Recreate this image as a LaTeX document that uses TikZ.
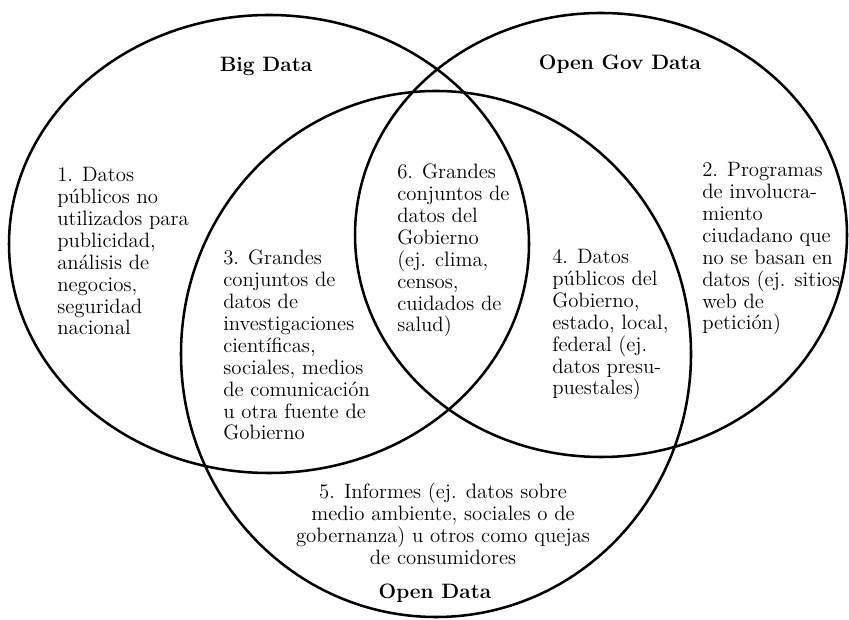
\documentclass[tikz,border=0pt]{standalone}
\usepackage{fontspec}
\usepackage{tikz}
\tikzset{every picture/.style={/utils/exec={\fontsize{14.8}{15.6}\selectfont}}}
\tikzset{
  areatext/.style={align=left, anchor=base west, inner sep=0pt},
  settitle/.style={anchor=base, inner sep=0pt, font=\bfseries},
  setline/.style={line width=1.8pt}
}
\begin{document}
\begin{tikzpicture}
        \useasboundingbox (0cm, 0cm) rectangle (21.225cm, 15.475cm);
        \draw[setline] (6.725cm, 9.375cm) ellipse (6.5cm and 5.725cm);
        \draw[setline] (15.025cm, 9.6cm) ellipse (6.15cm and 5.55cm);
        \draw[setline] (10.9cm, 6.625cm) ellipse (6.375cm and 6.575cm);

        \node[settitle] (bigdata) at (6.65cm, 13.675cm) {Big Data};
        \node[settitle] (opengov) at (15.5cm, 13.725cm) {Open Gov Data};
        \node[settitle] (opendata) at (10.875cm, 0.525cm) {Open Data};

        % base anchor sits on the last line of each block
        \node[areatext] (area1) at (1.425cm, 7.1cm) {1. Datos\\públicos no\\utilizados para\\publicidad,\\análisis de\\negocios,\\seguridad\\nacional};
        \node[areatext] (area2) at (17.55cm, 7.225cm) {2. Programas\\de involucra-\\miento\\ciudadano que\\no se basan en\\datos (ej. sitios\\web de\\petición)};
        \node[areatext] (area3) at (5.575cm, 4.475cm) {3. Grandes\\conjuntos de\\datos de\\investigaciones\\científicas,\\sociales, medios\\de comunicación\\u otra fuente de\\Gobierno};
        \node[areatext] (area4) at (13.8cm, 5.6cm) {4. Datos\\públicos del\\Gobierno,\\estado, local,\\federal (ej.\\datos presu-\\puestales)};
        \node[areatext, align=center, anchor=base] (area5) at (11.075cm, 1.375cm) {5. Informes (ej. datos sobre\\medio ambiente, sociales o de\\gobernanza) u otros como quejas\\de consumidores};
        \node[areatext] (area6) at (9.925cm, 7.175cm) {6. Grandes\\conjuntos de\\datos del\\Gobierno\\(ej. clima,\\censos,\\cuidados de\\salud)};
    \end{tikzpicture}
\end{document}
